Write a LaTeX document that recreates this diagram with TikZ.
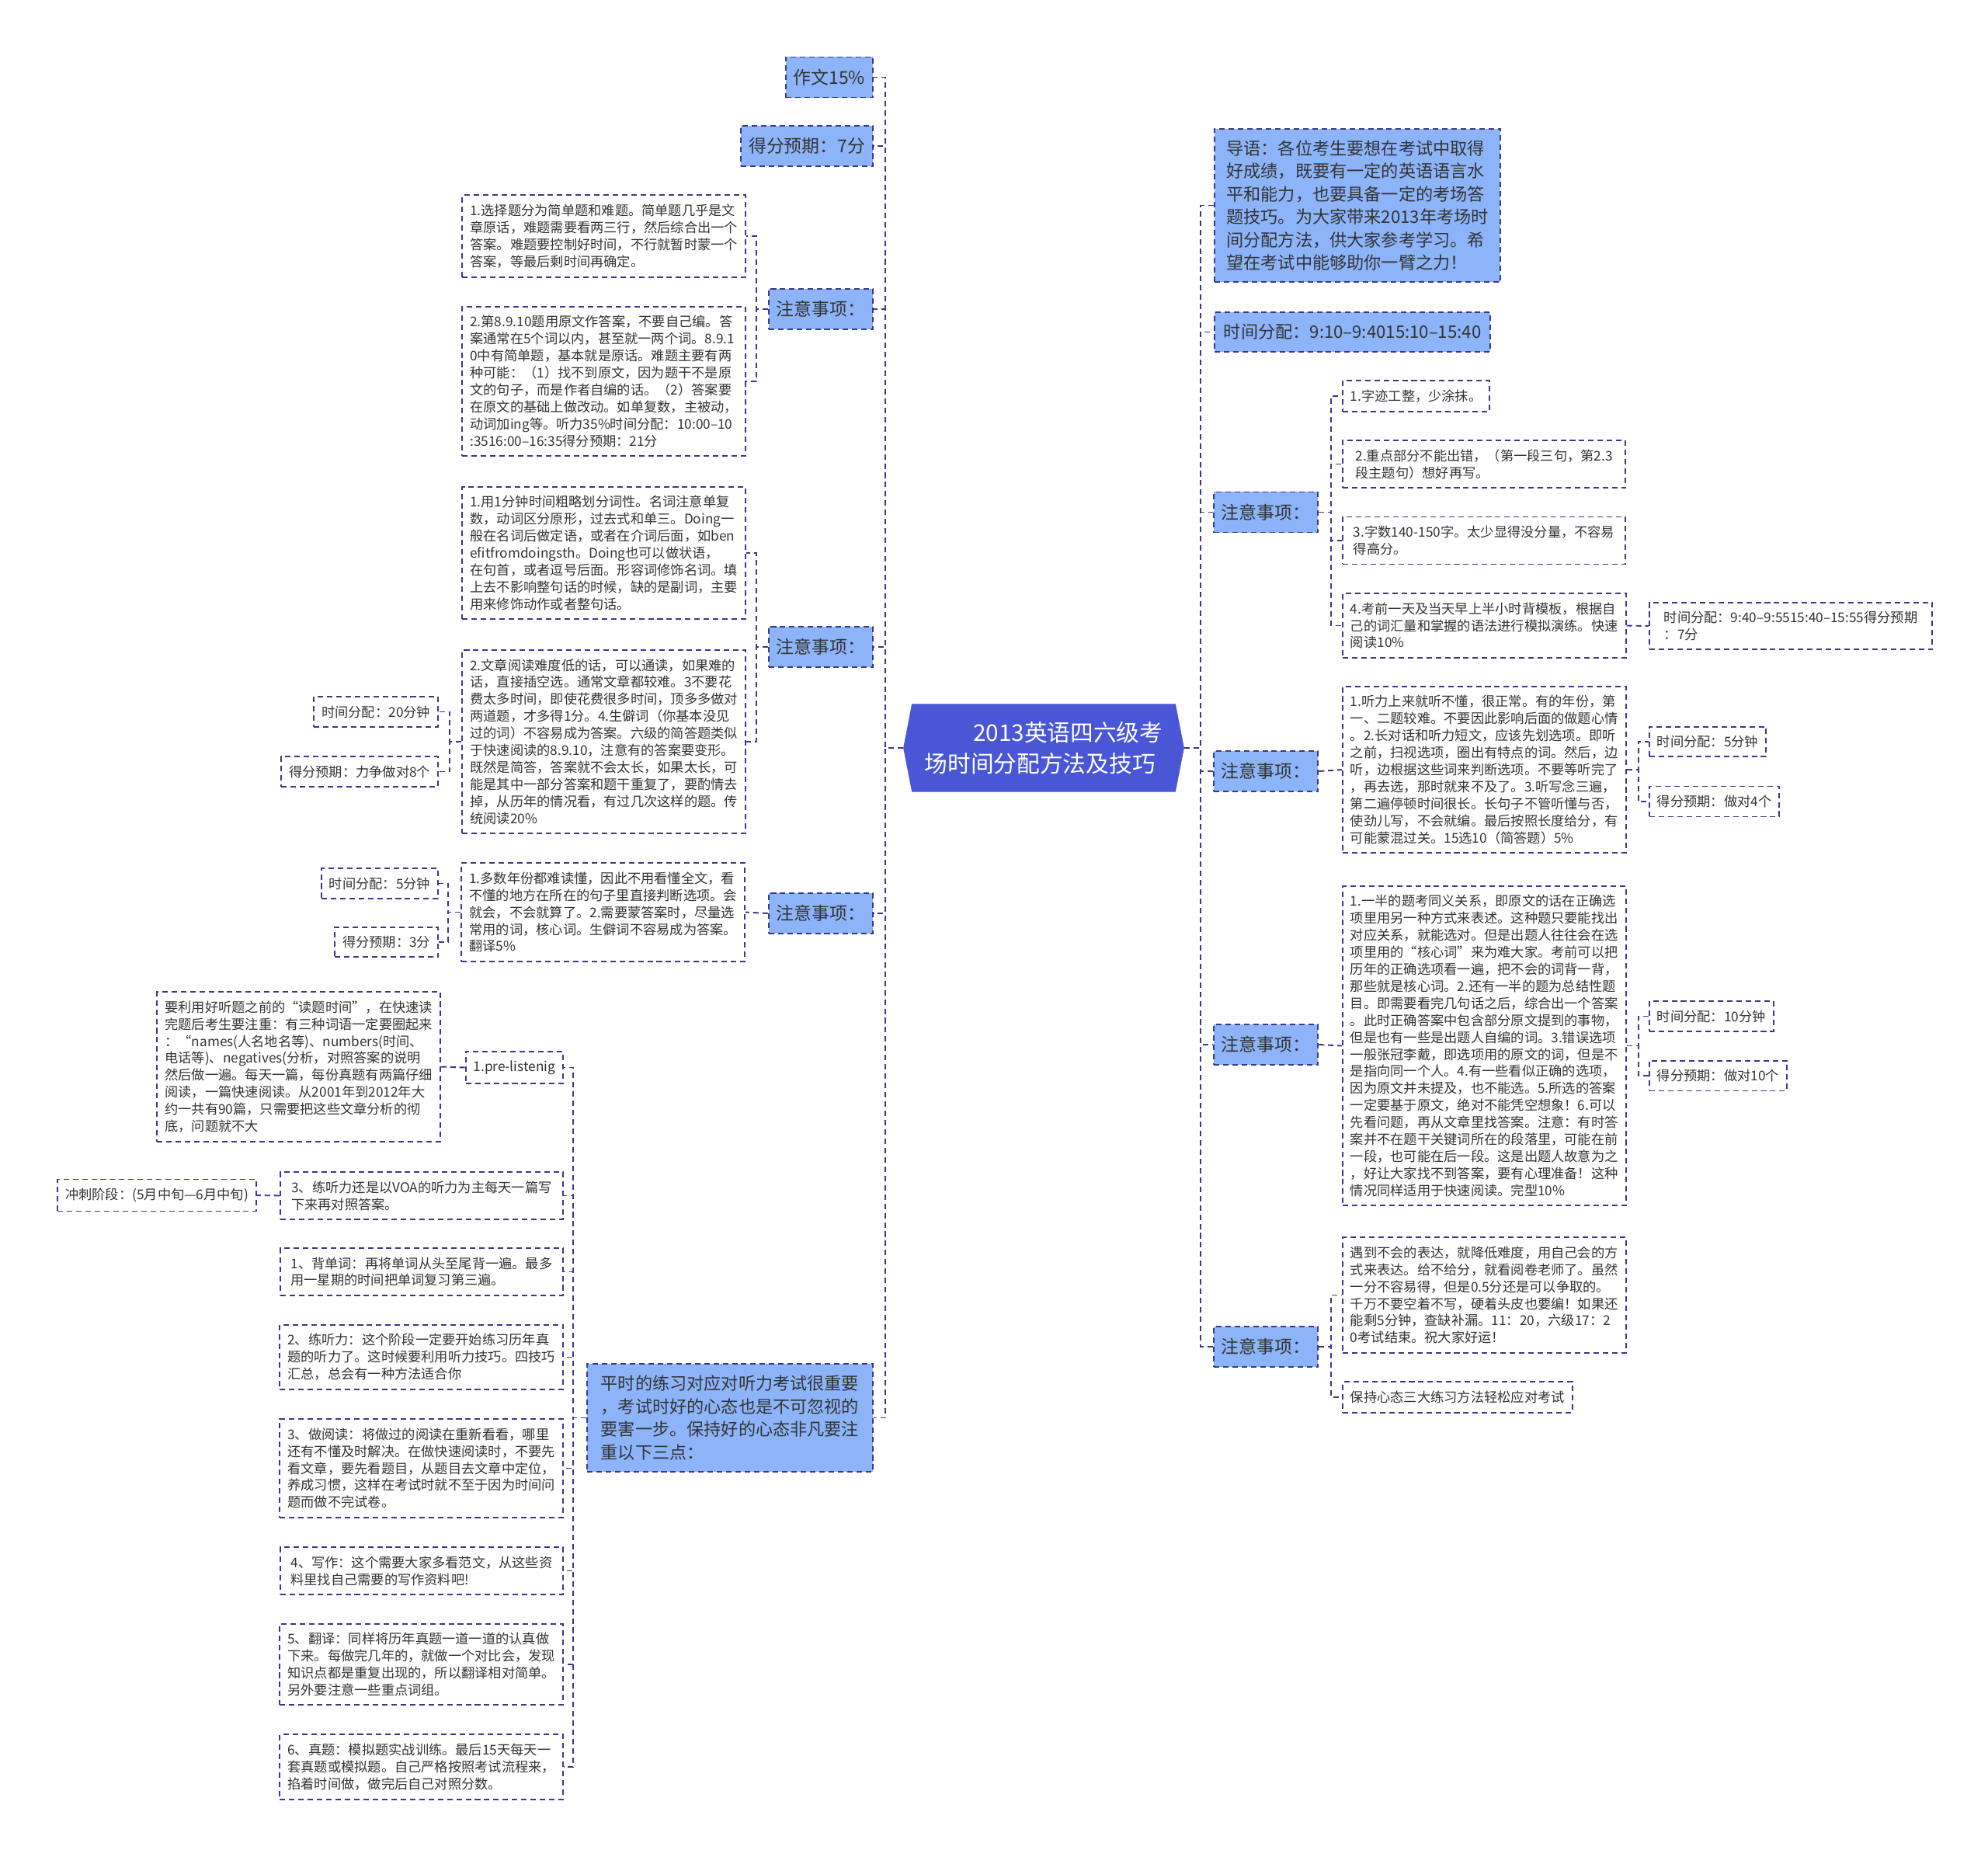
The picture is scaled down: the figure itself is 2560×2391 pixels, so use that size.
\documentclass[tikz,border=0pt]{standalone}
\usepackage{fontspec}
\setmainfont{Noto Sans CJK SC}
\usetikzlibrary{shapes.symbols}
\definecolor{catblue}{RGB}{141,180,248}
\definecolor{linkblue}{RGB}{56,56,140}
\definecolor{rootblue}{RGB}{73,86,214}
\definecolor{txt}{RGB}{51,51,51}
\begin{document}
\begin{tikzpicture}[x=0.01cm,y=-0.01cm,
	dashline/.style={draw=linkblue,line width=0.55pt,dash pattern=on 2pt off 1.4pt},
	link/.style={dashline},
	leaf/.style={dashline,fill=white,text=txt,align=left,inner xsep=0.1cm,inner ysep=0.115cm,font=\fontsize{4.9}{6.23}\selectfont},
	wide/.style={leaf,minimum width=3.64cm},
	cat/.style={dashline,fill=catblue,text=txt,inner xsep=0.1cm,minimum height=0.52cm,font=\fontsize{6.5}{8}\selectfont},
	big/.style={dashline,fill=catblue,text=txt,align=left,inner xsep=0.12cm,inner ysep=0.15cm,minimum width=3.68cm,font=\fontsize{6.3}{8.35}\selectfont},
	root/.style={signal,signal to=west and east,signal pointer angle=158,fill=rootblue,draw=rootblue,text=white,align=left,minimum width=3.6cm,minimum height=1.12cm,font=\fontsize{8.45}{11.4}\selectfont}]
	\useasboundingbox (0,0) rectangle (2560,2391);
	% centre
	\node[root] (root) at (1344,963) {\hspace*{2.1em}2013英语四六级考\\场时间分配方法及技巧};
	% left branches
	\node[cat,anchor=east] (zuowen) at (1125,99.5) {作文15\%};
	\node[cat,anchor=east] (defen7) at (1125,188) {得分预期：7分};
	\node[cat,anchor=east] (catA) at (1125,398) {注意事项：};
	\node[cat,anchor=east] (catB) at (1125,833) {注意事项：};
	\node[cat,anchor=east] (catC) at (1125,1176) {注意事项：};
	\node[big,anchor=east] (E) at (1125,1825.5) {平时的练习对应对听力考试很重要\\，考试时好的心态也是不可忽视的\\要害一步。保持好的心态非凡要注\\重以下三点：};
	% writing tips
	\node[wide,anchor=east] (A1) at (961,304) {1.选择题分为简单题和难题。简单题几乎是文\\章原话，难题需要看两三行，然后综合出一个\\答案。难题要控制好时间，不行就暂时蒙一个\\答案，等最后剩时间再确定。};
	\node[wide,anchor=east] (A2) at (961,491) {2.第8.9.10题用原文作答案，不要自己编。答\\案通常在5个词以内，甚至就一两个词。8.9.1\\0中有简单题，基本就是原话。难题主要有两\\种可能：（1）找不到原文，因为题干不是原\\文的句子，而是作者自编的话。（2）答案要\\在原文的基础上做改动。如单复数，主被动，\\动词加ing等。听力35\%时间分配：10:00–10\\:3516:00–16:35得分预期：21分};
	% reading tips
	\node[wide,anchor=east] (B1) at (961,712) {1.用1分钟时间粗略划分词性。名词注意单复\\数，动词区分原形，过去式和单三。Doing一\\般在名词后做定语，或者在介词后面，如ben\\efitfromdoingsth。Doing也可以做状语，\\在句首，或者逗号后面。形容词修饰名词。填\\上去不影响整句话的时候，缺的是副词，主要\\用来修饰动作或者整句话。};
	\node[wide,anchor=east] (B2) at (961,955) {2.文章阅读难度低的话，可以通读，如果难的\\话，直接插空选。通常文章都较难。3不要花\\费太多时间，即使花费很多时间，顶多多做对\\两道题，才多得1分。4.生僻词（你基本没见\\过的词）不容易成为答案。六级的简答题类似\\于快速阅读的8.9.10，注意有的答案要变形。\\既然是简答，答案就不会太长，如果太长，可\\能是其中一部分答案和题干重复了，要酌情去\\掉，从历年的情况看，有过几次这样的题。传\\统阅读20\%};
	\node[leaf,anchor=east] (B2a) at (565,916.5) {时间分配：20分钟};
	\node[leaf,anchor=east] (B2b) at (565,993.5) {得分预期：力争做对8个};
	% translation tips
	\node[wide,anchor=east] (C1) at (960,1174.5) {1.多数年份都难读懂，因此不用看懂全文，看\\不懂的地方在所在的句子里直接判断选项。会\\就会，不会就算了。2.需要蒙答案时，尽量选\\常用的词，核心词。生僻词不容易成为答案。\\翻译5\%};
	\node[leaf,anchor=east] (C1a) at (565,1137.5) {时间分配：5分钟};
	\node[leaf,anchor=east] (C1b) at (565,1213) {得分预期：3分};
	% practice
	\node[leaf,anchor=east] (D) at (726,1374.5) {1.pre-listenig};
	\node[wide,anchor=east] (D1) at (568,1373.5) {要利用好听题之前的“读题时间”，在快速读\\完题后考生要注重：有三种词语一定要圈起来\\：“names(人名地名等)、numbers(时间、\\电话等)、negatives(分析，对照答案的说明\\然后做一遍。每天一篇，每份真题有两篇仔细\\阅读，一篇快速阅读。从2001年到2012年大\\约一共有90篇，只需要把这些文章分析的彻\\底，问题就不大};
	\node[wide,anchor=east] (F) at (726,1539.5) {3、练听力还是以VOA的听力为主每天一篇写\\下来再对照答案。};
	\node[leaf,anchor=east] (chongci) at (331,1539) {冲刺阶段：(5月中旬—6月中旬)};
	\node[wide,anchor=east] (G1) at (726,1637.5) {1、背单词：再将单词从头至尾背一遍。最多\\用一星期的时间把单词复习第三遍。};
	\node[wide,anchor=east] (G2) at (726,1747.5) {2、练听力：这个阶段一定要开始练习历年真\\题的听力了。这时候要利用听力技巧。四技巧\\汇总，总会有一种方法适合你};
	\node[wide,anchor=east] (G3) at (726,1890.5) {3、做阅读：将做过的阅读在重新看看，哪里\\还有不懂及时解决。在做快速阅读时，不要先\\看文章，要先看题目，从题目去文章中定位，\\养成习惯，这样在考试时就不至于因为时间问\\题而做不完试卷。};
	\node[wide,anchor=east] (G4) at (726,2022.5) {4、写作：这个需要大家多看范文，从这些资\\料里找自己需要的写作资料吧!};
	\node[wide,anchor=east] (G5) at (726,2143) {5、翻译：同样将历年真题一道一道的认真做\\下来。每做完几年的，就做一个对比会，发现\\知识点都是重复出现的，所以翻译相对简单。\\另外要注意一些重点词组。};
	\node[wide,anchor=east] (G6) at (726,2275) {6、真题：模拟题实战训练。最后15天每天一\\套真题或模拟题。自己严格按照考试流程来，\\掐着时间做，做完后自己对照分数。};
	% right branches
	\node[big,anchor=west] (intro) at (1563,264.5) {导语：各位考生要想在考试中取得\\好成绩，既要有一定的英语语言水\\平和能力，也要具备一定的考场答\\题技巧。为大家带来2013年考场时\\间分配方法，供大家参考学习。希\\望在考试中能够助你一臂之力！};
	\node[big,anchor=west,minimum width=0pt] (time) at (1563,427.5) {时间分配：9:10–9:4015:10–15:40};
	\node[cat,anchor=west] (catR1) at (1562,659.5) {注意事项：};
	\node[cat,anchor=west] (catR2) at (1562,993) {注意事项：};
	\node[cat,anchor=west] (catR3) at (1562,1345) {注意事项：};
	\node[cat,anchor=west] (catR4) at (1562,1734) {注意事项：};
	% writing
	\node[leaf,anchor=west] (R1a) at (1728,510) {1.字迹工整，少涂抹。};
	\node[wide,anchor=west] (R1b) at (1728,597.5) {2.重点部分不能出错，（第一段三句，第2.3\\段主题句）想好再写。};
	\node[wide,anchor=west] (R1c) at (1728,696) {3.字数140-150字。太少显得没分量，不容易\\得高分。};
	\node[wide,anchor=west] (R1d) at (1728,805.5) {4.考前一天及当天早上半小时背模板，根据自\\己的词汇量和掌握的语法进行模拟演练。快速\\阅读10\%};
	\node[wide,anchor=west] (R1e) at (2123,806) {时间分配：9:40–9:5515:40–15:55得分预期\\：7分};
	% listening
	\node[wide,anchor=west] (R2a) at (1728,991) {1.听力上来就听不懂，很正常。有的年份，第\\一、二题较难。不要因此影响后面的做题心情\\。2.长对话和听力短文，应该先划选项。即听\\之前，扫视选项，圈出有特点的词。然后，边\\听，边根据这些词来判断选项。不要等听完了\\，再去选，那时就来不及了。3.听写念三遍，\\第二遍停顿时间很长。长句子不管听懂与否，\\使劲儿写，不会就编。最后按照长度给分，有\\可能蒙混过关。15选10（简答题）5\%};
	\node[leaf,anchor=west] (R2b) at (2123,955) {时间分配：5分钟};
	\node[leaf,anchor=west] (R2c) at (2123,1032) {得分预期：做对4个};
	% cloze
	\node[wide,anchor=west] (R3a) at (1728,1346.5) {1.一半的题考同义关系，即原文的话在正确选\\项里用另一种方式来表述。这种题只要能找出\\对应关系，就能选对。但是出题人往往会在选\\项里用的“核心词”来为难大家。考前可以把\\历年的正确选项看一遍，把不会的词背一背，\\那些就是核心词。2.还有一半的题为总结性题\\目。即需要看完几句话之后，综合出一个答案\\。此时正确答案中包含部分原文提到的事物，\\但是也有一些是出题人自编的词。3.错误选项\\一般张冠李戴，即选项用的原文的词，但是不\\是指向同一个人。4.有一些看似正确的选项，\\因为原文并未提及，也不能选。5.所选的答案\\一定要基于原文，绝对不能凭空想象！6.可以\\先看问题，再从文章里找答案。注意：有时答\\案并不在题干关键词所在的段落里，可能在前\\一段，也可能在后一段。这是出题人故意为之\\，好让大家找不到答案，要有心理准备！这种\\情况同样适用于快速阅读。完型10\%};
	\node[leaf,anchor=west] (R3b) at (2123,1308.5) {时间分配：10分钟};
	\node[leaf,anchor=west] (R3c) at (2123,1385) {得分预期：做对10个};
	% ending
	\node[wide,anchor=west] (R4a) at (1728,1667.5) {遇到不会的表达，就降低难度，用自己会的方\\式来表达。给不给分，就看阅卷老师了。虽然\\一分不容易得，但是0.5分还是可以争取的。\\千万不要空着不写，硬着头皮也要编！如果还\\能剩5分钟，查缺补漏。11：20，六级17：2\\0考试结束。祝大家好运！};
	\node[leaf,anchor=west] (R4b) at (1728,1799) {保持心态三大练习方法轻松应对考试};
	% spines
	\coordinate (ls) at (1140,963);
	\coordinate (rs) at (1546,963);
	\foreach \n in {zuowen,defen7,catA,catB,catC,E}
		\draw[link] (root.west) -- (ls) |- (\n.east);
	\foreach \n in {intro,time,catR1,catR2,catR3,catR4}
		\draw[link] (root.east) -- (rs) |- (\n.west);
	% left brackets
	\foreach \n in {A1,A2}
		\draw[link] (catA.west) -- ++(-15,0) |- (\n.east);
	\foreach \n in {B1,B2}
		\draw[link] (catB.west) -- ++(-15,0) |- (\n.east);
	\foreach \n in {B2a,B2b}
		\draw[link] (B2.west) -- ++(-15,0) |- (\n.east);
	\draw[link] (catC.west) -- (C1.east);
	\foreach \n in {C1a,C1b}
		\draw[link] (C1.west) -- ++(-16,0) |- (\n.east);
	\foreach \n in {D,F,G1,G2,G3,G4,G5,G6}
		\draw[link] (E.west) -- ++(-17,0) |- (\n.east);
	\draw[link] (D.west) -- (D1.east);
	\draw[link] (F.west) -- (chongci.east);
	% right brackets
	\foreach \n in {R1a,R1b,R1c,R1d}
		\draw[link] (catR1.east) -- ++(16,0) |- (\n.west);
	\draw[link] (R1d.east) -- (R1e.west);
	\draw[link] (catR2.east) -- (R2a.west);
	\foreach \n in {R2b,R2c}
		\draw[link] (R2a.east) -- ++(15,0) |- (\n.west);
	\draw[link] (catR3.east) -- (R3a.west);
	\foreach \n in {R3b,R3c}
		\draw[link] (R3a.east) -- ++(15,0) |- (\n.west);
	\foreach \n in {R4a,R4b}
		\draw[link] (catR4.east) -- ++(16,0) |- (\n.west);
\end{tikzpicture}
\end{document}
